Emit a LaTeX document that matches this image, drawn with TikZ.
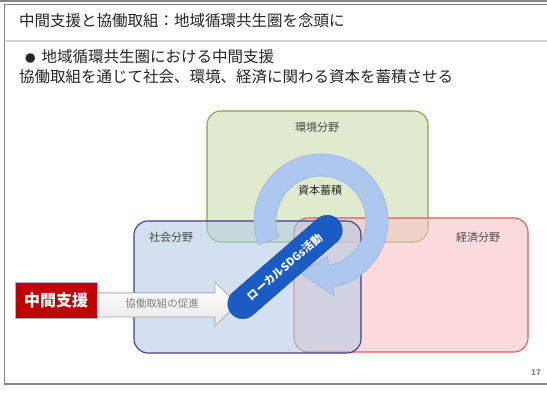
\documentclass[tikz,border=0pt]{standalone}
\usepackage{fontspec}
\setmainfont{Noto Sans CJK JP}
\definecolor{greenfill}{HTML}{C9DBAE}
\definecolor{greenline}{HTML}{7FA64A}
\definecolor{bluefill}{HTML}{B3CBE4}
\definecolor{blueline}{HTML}{3F3F8F}
\definecolor{redfill}{HTML}{FBC2C4}
\definecolor{redline}{HTML}{E35A5F}
\definecolor{ringfill}{HTML}{ADC7EE}
\definecolor{ringline}{HTML}{97B4E0}
\definecolor{barblue}{HTML}{1A5CC4}
\definecolor{darkred}{HTML}{C00000}
\definecolor{txt}{HTML}{262626}
\definecolor{frame}{HTML}{858585}
\tikzset{
  field/.style={draw, line width=1.1pt, rounded corners=14pt, fill opacity=0.58, inner sep=0pt},
  fieldlabel/.style={font=\fontsize{11}{13}\selectfont, text=txt!85, inner sep=0pt},
  ringstyle/.style={fill=ringfill, draw=ringline, line width=0.6pt},
  bodytext/.style={anchor=west, inner sep=0pt, text=txt, font=\fontsize{15.5}{18}\selectfont},
}
\begin{document}
\begin{tikzpicture}[x=1pt,y=-1pt]
\useasboundingbox (0,0) rectangle (547,398);
\fill[white] (0,0) rectangle (547,398);
% frame
\draw[frame, line width=1.2pt] (0,1) -- (547,1);
\draw[frame, line width=1.8pt] (547,4.5) -- (4.5,4.5) -- (4.5,384) -- (547,384);
\draw[gray!35, line width=1.6pt] (5.5,41) -- (547,41);
% title and text
\node[bodytext] (title) at (19,21) {中間支援と協働取組：地域循環共生圏を念頭に};
\node[bodytext] (line1) at (25,57) {{\fontsize{10.5}{12}\selectfont ●}\hspace{6pt}地域循環共生圏における中間支援};
\node[bodytext] (line2) at (19,77) {協働取組を通じて社会、環境、経済に関わる資本を蓄積させる};
% fields
\node[field, draw=greenline, fill=greenfill, minimum width=221pt, minimum height=131pt] (env) at (317.5,176.5) {};
\node[field, draw=redline, fill=redfill, minimum width=234pt, minimum height=134pt] (eco) at (411,285) {};
\node[field, draw=blueline, fill=bluefill, minimum width=227pt, minimum height=132pt] (soc) at (247.5,287) {};
\node[fieldlabel] (envl) at (317,127) {環境分野};
\node[fieldlabel] (socl) at (171,237) {社会分野};
\node[fieldlabel] (ecol) at (478,237) {経済分野};
% ring arrow
\coordinate (c) at (321,221);
\filldraw[ringstyle]
  plot[domain=159:440, samples=90] ({321+67*cos(\x)},{221+67*sin(\x)})
  -- ({321+76*cos(440)},{221+76*sin(440)})
  -- ({321+56*cos(472)},{221+56*sin(472)})
  -- ({321+36*cos(440)},{221+36*sin(440)})
  -- plot[domain=440:159, samples=90] ({321+45*cos(\x)},{221+45*sin(\x)})
  -- cycle;
\node[inner sep=0pt, text=txt, font=\fontsize{11}{13}\selectfont] (cap) at (320,190) {資本蓄積};
% support box and white arrow
\node[draw=gray!60, fill=darkred, text=white, font=\fontsize{16}{18}\bfseries, minimum width=82pt, minimum height=36pt, inner sep=0pt] (sup) at (56,300) {中間支援};
\filldraw[draw=gray!70, line width=0.6pt, top color=white, bottom color=gray!18]
  (sup.east |- 0,293) -- (215,293) -- (215,282) -- (237,304) -- (215,326) -- (215,317) -- (sup.east |- 0,317) -- cycle;
\node[inner sep=0pt, text=gray, font=\fontsize{10.5}{12}\selectfont] (prom) at (162,304) {協働取組の促進};
% local SDGs bar
\node[fill=barblue, draw=barblue!80!black, line width=0.4pt, rounded corners=15pt, minimum width=142pt, minimum height=30pt, inner sep=0pt, rotate=41, text=white, font=\fontsize{11}{13}\bfseries] (bar) at (285,267) {ローカルSDGs活動};
% page number
\node[inner sep=0pt, text=gray, font=\fontsize{8}{9}\bfseries] (pg) at (536,373) {17};
\end{tikzpicture}
\end{document}
